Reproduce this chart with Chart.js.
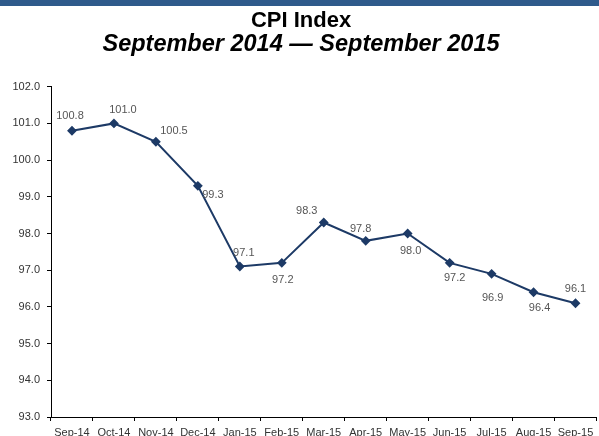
<!DOCTYPE html>
<html>
<head>
<meta charset="utf-8">
<script src="https://cdn.jsdelivr.net/npm/chart.js@4"></script>
<style>
  html, body { margin: 0; padding: 0; background: #fff; overflow: hidden; }
  #band { position: absolute; left: 0; top: 0; width: 599px; height: 6px; background: #2f5a8b; z-index: 2; }
  #wrap { position: absolute; left: 0; top: 0; width: 602px; height: 440px; }
</style>
</head>
<body>
<div id="band"></div>
<div id="wrap"><canvas id="cpi"></canvas></div>
<script>
const months = ["Sep-14", "Oct-14", "Nov-14", "Dec-14", "Jan-15", "Feb-15", "Mar-15",
  "Apr-15", "May-15", "Jun-15", "Jul-15", "Aug-15", "Sep-15"];
const cpiValues = [100.8, 101.0, 100.5, 99.3, 97.1, 97.2, 98.3, 97.8, 98.0, 97.2, 96.9, 96.4, 96.1];
const yMin = 93, yMax = 102;

// where each value label sits relative to its point (dx, dy in px)
const labelOffsets = [[-2, -15], [9, -13], [18, -11], [15, 9], [4, -14], [1, 17], [-17, -12],
  [-5, -12], [3, 17], [5, 15], [1, 24], [6, 16], [0, -14]];

const font = "'Liberation Sans', Arial, Helvetica, sans-serif";

const valueLabels = {
  id: 'valueLabels',
  afterDatasetsDraw(chart) {
    const ctx = chart.ctx;
    const meta = chart.getDatasetMeta(0);
    ctx.save();
    ctx.font = "11px " + font;
    ctx.fillStyle = "#555";
    ctx.textAlign = "center";
    ctx.textBaseline = "middle";
    meta.data.forEach((pt, i) => {
      const off = labelOffsets[i];
      ctx.fillText(cpiValues[i].toFixed(1), pt.x + off[0], pt.y + off[1]);
    });
    ctx.restore();
  }
};

new Chart(document.getElementById("cpi"), {
  type: "line",
  data: {
    labels: months,
    datasets: [{
      label: "CPI Index",
      data: cpiValues,
      borderColor: "#1d3a66",
      backgroundColor: "#1d3a66",
      borderWidth: 2,
      pointStyle: "rectRot",
      pointRadius: 3.5,
      pointHoverRadius: 3.5,
      tension: 0
    }]
  },
  options: {
    responsive: true,
    maintainAspectRatio: false,
    animation: false,
    layout: { padding: 0 },
    plugins: {
      legend: { display: false },
      tooltip: { enabled: false },
      title: {
        display: true,
        text: "CPI Index",
        color: "#000",
        font: { family: font, size: 22, weight: "bold", lineHeight: 1.1 },
        padding: { top: 9, bottom: 0 }
      },
      subtitle: {
        display: true,
        text: "September 2014 \u2014 September 2015",
        color: "#000",
        font: { family: font, size: 23.5, weight: "bold", style: "italic", lineHeight: 1.0 },
        padding: { top: 0, bottom: 30 }
      }
    },
    scales: {
      x: {
        offset: true,
        afterFit(scale) { scale.height = 23; },
        grid: { display: true, offset: true, drawOnChartArea: false, tickLength: 4, color: "#000" },
        border: { display: true, color: "#000", width: 1 },
        ticks: { color: "#333", padding: 5, maxRotation: 0, autoSkip: false, font: { family: font, size: 11 } }
      },
      y: {
        min: yMin,
        max: yMax,
        afterFit(scale) { scale.width = 51; },
        grid: { display: true, drawOnChartArea: false, tickLength: 4, color: "#000" },
        border: { display: true, color: "#000", width: 1 },
        ticks: {
          stepSize: 1,
          color: "#333",
          padding: 7,
          font: { family: font, size: 11 },
          callback: v => Number(v).toFixed(1)
        }
      }
    }
  },
  plugins: [valueLabels]
});
</script>
</body>
</html>
